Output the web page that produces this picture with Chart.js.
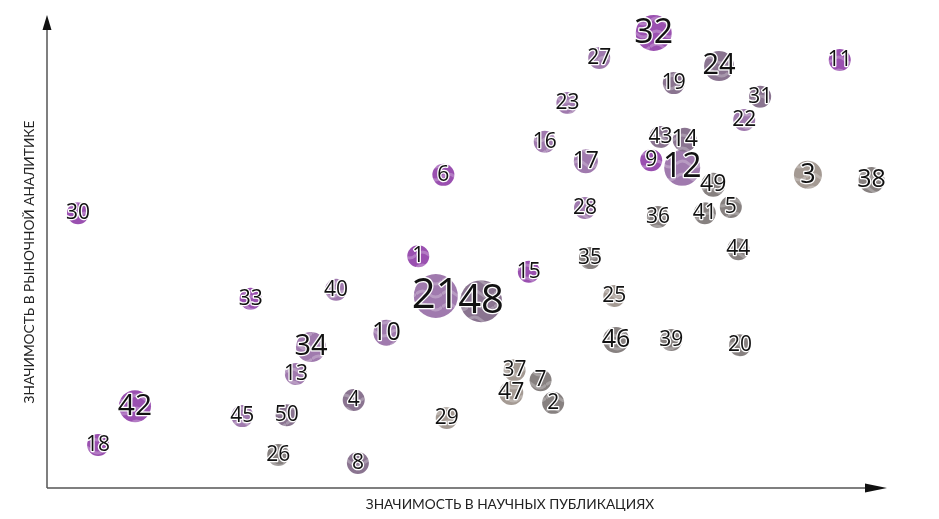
<!DOCTYPE html>
<html>
<head>
<meta charset="utf-8">
<script src="https://cdn.jsdelivr.net/npm/chart.js@4/dist/chart.umd.min.js"></script>
<style>
  html, body { margin: 0; padding: 0; background: #fff; }
  #wrap { width: 939px; height: 519px; }
</style>
</head>
<body>
<div id="wrap"><canvas id="chart"></canvas></div>
<script>
// bubble ids, positions (0..100 on both axes), weight (radius) and colour group
const ids = [1,2,3,4,5,6,7,8,9,10,11,12,13,14,15,16,17,18,19,20,21,22,23,24,25,
             26,27,28,29,30,31,32,33,34,35,36,37,38,39,40,41,42,43,44,45,46,47,48,49,50];
const sci = [44.3,60.4,90.8,36.6,81.6,47.3,58.9,37.1,72.1,40.5,94.6,75.8,29.7,76.1,57.5,
             59.4,64.3,6.1,74.8,82.7,46.4,83.2,62.1,80.2,67.7,27.6,65.9,64.2,47.7,3.7,
             85.1,72.4,24.3,31.5,64.8,72.9,55.8,98.4,74.5,34.5,78.5,10.5,73.2,82.5,23.3,
             67.9,55.4,51.8,79.5,28.6];
const market = [49.0,18.0,66.2,18.6,59.4,66.2,22.8,5.3,69.3,32.8,90.5,67.7,24.1,73.6,45.7,
                73.2,69.1,9.1,85.6,30.2,40.6,77.8,81.4,89.2,40.6,7.0,90.9,59.2,14.8,58.1,
                82.7,96.2,40.0,29.8,48.6,57.3,24.9,65.1,31.3,41.9,58.1,17.3,74.2,50.5,15.2,
                31.3,20.1,39.5,64.1,15.4];
const weight = [11,11,14,11,11,11,11,11,11,13,11,18,11,12,11,11,12,11,11,11,22,11,11,15,11,
                11,11,11,11,11,11,18,11,15,11,11,11,13,11,11,11,16,11,11,11,13,12,21,12,11];
const groups = ['P','N','B','G','N','P','N','G','P','M','P','M','M','G','P','M','M','P','G','N',
                'M','M','M','G','B','N','M','M','B','P','G','P','P','M','N','N','B','N','N','M',
                'N','P','G','N','M','N','B','G','N','G'];
const groupColors = { P: '#9a50b0', M: '#a07aae', G: '#8a7490', N: '#878180', B: '#a49a93' };
const xTitle = 'ЗНАЧИМОСТЬ В НАУЧНЫХ ПУБЛИКАЦИЯХ';
const yTitle = 'ЗНАЧИМОСТЬ В РЫНОЧНОЙ АНАЛИТИКЕ';

// light wavy stripes over the base colour
function stripePattern(color) {
    const c = document.createElement('canvas');
    c.width = 26; c.height = 26;
    const g = c.getContext('2d');
    g.fillStyle = color;
    g.fillRect(0, 0, 26, 26);
    g.strokeStyle = 'rgba(255,255,255,0.25)';
    g.lineWidth = 3;
    g.beginPath();
    g.moveTo(0, 8); g.quadraticCurveTo(6.5, 2, 13, 8); g.quadraticCurveTo(19.5, 14, 26, 8);
    g.moveTo(0, 21); g.quadraticCurveTo(6.5, 15, 13, 21); g.quadraticCurveTo(19.5, 27, 26, 21);
    g.stroke();
    return g.createPattern(c, 'repeat');
}
const patterns = {};
Object.keys(groupColors).forEach(k => { patterns[k] = stripePattern(groupColors[k]); });

const points = ids.map((id, i) => ({ x: sci[i], y: market[i], r: weight[i], id: id }));

const labelsPlugin = {
    id: 'bubbleLabels',
    afterDatasetsDraw(chart) {
        const ctx = chart.ctx;
        const meta = chart.getDatasetMeta(0);
        ctx.save();
        ctx.textAlign = 'center';
        ctx.textBaseline = 'middle';
        ctx.lineJoin = 'round';
        meta.data.forEach((el, i) => {
            const size = Math.round(weight[i] * 1.9);
            ctx.font = size + 'px "Open Sans", sans-serif';
            ctx.lineWidth = 2.5;
            ctx.strokeStyle = '#fff';
            ctx.strokeText(String(ids[i]), el.x, el.y);
            ctx.fillStyle = '#111';
            ctx.fillText(String(ids[i]), el.x, el.y);
        });
        ctx.restore();
    }
};

const axesPlugin = {
    id: 'arrowAxes',
    beforeDatasetsDraw(chart) {
        const ctx = chart.ctx;
        const a = chart.chartArea;
        ctx.save();
        ctx.strokeStyle = '#555';
        ctx.fillStyle = '#111';
        ctx.lineWidth = 1.5;
        ctx.beginPath();
        ctx.moveTo(a.left, a.bottom);
        ctx.lineTo(a.left, a.top + 8);
        ctx.moveTo(a.left, a.bottom);
        ctx.lineTo(a.right - 8, a.bottom);
        ctx.stroke();
        // arrow heads
        ctx.beginPath();
        ctx.moveTo(a.left, a.top);
        ctx.lineTo(a.left - 4.5, a.top + 15);
        ctx.lineTo(a.left + 4.5, a.top + 15);
        ctx.closePath();
        ctx.fill();
        ctx.beginPath();
        ctx.moveTo(a.right + 2, a.bottom);
        ctx.lineTo(a.right - 20, a.bottom - 4.5);
        ctx.lineTo(a.right - 20, a.bottom + 4.5);
        ctx.closePath();
        ctx.fill();
        // titles
        ctx.fillStyle = '#222';
        ctx.font = '13.7px Lato, sans-serif';
        ctx.textAlign = 'center';
        ctx.textBaseline = 'middle';
        ctx.fillText(xTitle, 510, a.bottom + 17);
        ctx.translate(30, 262);
        ctx.rotate(-Math.PI / 2);
        ctx.fillText(yTitle, 0, 0);
        ctx.restore();
    }
};

new Chart(document.getElementById('chart'), {
    type: 'bubble',
    data: {
        datasets: [{
            data: points,
            backgroundColor: groups.map(g => patterns[g]),
            borderWidth: 0,
            hoverBorderWidth: 0,
            clip: false
        }]
    },
    options: {
        responsive: true,
        maintainAspectRatio: false,
        animation: false,
        layout: { autoPadding: false, padding: { left: 47, right: 54, top: 15, bottom: 31 } },
        scales: {
            x: { type: 'linear', min: 0, max: 100, display: false },
            y: { type: 'linear', min: 0, max: 100, display: false }
        },
        plugins: {
            legend: { display: false },
            tooltip: { enabled: false }
        }
    },
    plugins: [axesPlugin, labelsPlugin]
});
</script>
</body>
</html>
